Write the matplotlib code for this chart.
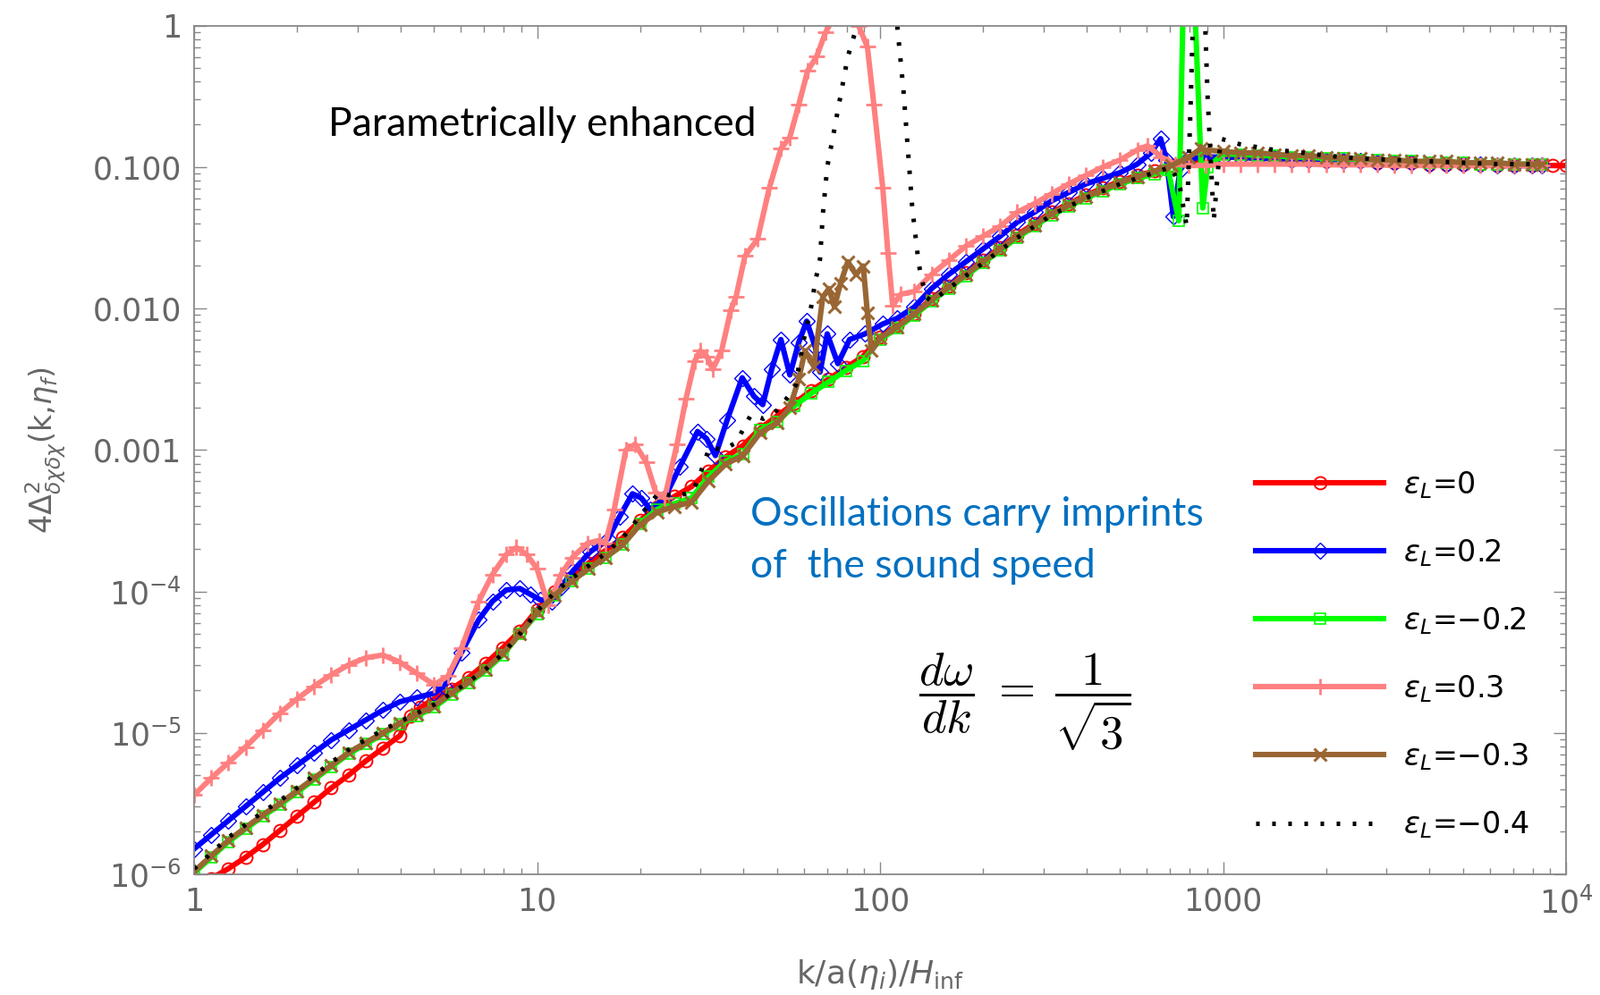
import numpy as np
import matplotlib
matplotlib.use('Agg')
from matplotlib import pyplot as plt
from matplotlib import ticker

plt.rcParams['font.family'] = 'DejaVu Sans'
plt.rcParams['mathtext.fontset'] = 'dejavusans'

# (log10 k, log10 P), one list per curve
red_pts = [(0.05,-6.03),(0.10,-5.96),(0.15,-5.88),(0.20,-5.79),(0.25,-5.69),(0.30,-5.59),(0.35,-5.49),(0.40,-5.39),
  (0.45,-5.30),(0.50,-5.20),(0.55,-5.11),(0.60,-5.02),(0.63,-4.88),(0.66,-4.82),(0.70,-4.76),(0.75,-4.69),(0.80,-4.61),
  (0.85,-4.51),(0.90,-4.40),(0.95,-4.28),(1.00,-4.13),(1.05,-4.00),(1.10,-3.90),(1.15,-3.80),(1.20,-3.71),(1.25,-3.62),
  (1.30,-3.50),(1.35,-3.40),(1.40,-3.33),(1.45,-3.26),(1.50,-3.15),(1.55,-3.05),(1.60,-2.97),(1.65,-2.85),(1.70,-2.76),
  (1.75,-2.67),(1.80,-2.58),(1.85,-2.50),(1.90,-2.42),(1.95,-2.34),(2.00,-2.20),(2.05,-2.12),(2.10,-2.04),(2.15,-1.93),
  (2.20,-1.84),(2.25,-1.75),(2.30,-1.66),(2.35,-1.57),(2.40,-1.48),(2.45,-1.40),(2.50,-1.32),(2.55,-1.26),(2.60,-1.20),
  (2.65,-1.15),(2.70,-1.10),(2.75,-1.06),(2.80,-1.03),(2.85,-0.99),(2.90,-0.96),(2.95,-0.94),(3.00,-0.93),(3.05,-0.93),
  (3.10,-0.94),(3.15,-0.94),(3.20,-0.95),(3.25,-0.95),(3.30,-0.96),(3.35,-0.96),(3.40,-0.96),(3.45,-0.97),(3.50,-0.97),
  (3.55,-0.97),(3.60,-0.98),(3.65,-0.98),(3.70,-0.98),(3.75,-0.98),(3.80,-0.99),(3.85,-0.99),(3.90,-0.99),(3.96,-0.99),
  (4.00,-0.99)]

blue_pts = [(0.00,-5.82),(0.05,-5.72),(0.10,-5.62),(0.15,-5.52),(0.20,-5.42),(0.25,-5.32),(0.30,-5.23),(0.35,-5.14),
  (0.40,-5.05),(0.45,-4.98),(0.50,-4.91),(0.55,-4.84),(0.60,-4.78),(0.65,-4.75),(0.70,-4.72),(0.73,-4.67),(0.78,-4.43),
  (0.83,-4.20),(0.87,-4.07),(0.91,-3.99),(0.95,-3.98),(0.98,-4.02),(1.01,-4.06),(1.043,-4.07),(1.07,-3.97),(1.103,-3.86),
  (1.155,-3.72),(1.207,-3.63),(1.241,-3.47),(1.278,-3.31),(1.304,-3.34),(1.33,-3.42),(1.372,-3.34),(1.416,-3.12),
  (1.468,-2.87),(1.494,-2.92),(1.52,-3.04),(1.554,-2.79),(1.598,-2.49),(1.632,-2.62),(1.658,-2.68),(1.684,-2.43),
  (1.711,-2.22),(1.737,-2.47),(1.763,-2.24),(1.786,-2.09),(1.812,-2.28),(1.825,-2.45),(1.846,-2.18),(1.877,-2.39),
  (1.911,-2.22),(1.956,-2.18),(2.008,-2.11),(2.05,-2.07),(2.10,-1.99),(2.15,-1.86),(2.20,-1.76),(2.25,-1.67),(2.30,-1.58),
  (2.35,-1.49),(2.40,-1.39),(2.45,-1.32),(2.50,-1.24),(2.55,-1.18),(2.60,-1.12),(2.65,-1.08),(2.70,-1.04),(2.75,-0.98),
  (2.79,-0.90),(2.818,-0.80),(2.835,-0.95),(2.855,-1.35),(2.875,-1.02),(2.90,-0.94),(2.95,-0.93),(3.00,-0.93),(3.05,-0.93),
  (3.10,-0.94),(3.15,-0.94),(3.20,-0.95),(3.25,-0.95),(3.30,-0.96),(3.35,-0.96),(3.40,-0.96),(3.45,-0.97),(3.50,-0.97),
  (3.55,-0.97),(3.60,-0.98),(3.65,-0.98),(3.70,-0.98),(3.75,-0.98),(3.80,-0.99),(3.85,-0.99),(3.90,-0.99),(3.93,-0.99)]

green_pts = [(0.00,-5.99),(0.05,-5.88),(0.10,-5.77),(0.15,-5.68),(0.20,-5.59),(0.25,-5.51),(0.30,-5.42),(0.35,-5.33),
  (0.40,-5.24),(0.45,-5.15),(0.50,-5.08),(0.55,-5.01),(0.60,-4.94),(0.65,-4.88),(0.70,-4.82),(0.75,-4.73),(0.80,-4.65),
  (0.85,-4.56),(0.90,-4.45),(0.95,-4.30),(1.00,-4.16),(1.05,-4.03),(1.10,-3.93),(1.15,-3.84),(1.20,-3.76),(1.25,-3.67),
  (1.30,-3.52),(1.35,-3.42),(1.40,-3.38),(1.45,-3.34),(1.50,-3.19),(1.55,-3.08),(1.60,-3.03),(1.65,-2.86),(1.70,-2.80),
  (1.75,-2.69),(1.80,-2.60),(1.85,-2.52),(1.90,-2.44),(1.95,-2.37),(2.00,-2.22),(2.05,-2.14),(2.10,-2.05),(2.15,-1.95),
  (2.20,-1.86),(2.25,-1.77),(2.30,-1.68),(2.35,-1.59),(2.40,-1.50),(2.45,-1.42),(2.50,-1.34),(2.55,-1.28),(2.60,-1.22),
  (2.65,-1.17),(2.70,-1.12),(2.75,-1.08),(2.80,-1.05),(2.84,-1.02),(2.871,-1.38),(2.885,0.30),(2.90,0.70),(2.915,0.30),
  (2.941,-1.29),(2.955,-1.00),(3.00,-0.91),(3.05,-0.91),(3.10,-0.92),(3.15,-0.92),(3.20,-0.93),(3.25,-0.93),(3.30,-0.94),
  (3.35,-0.94),(3.40,-0.95),(3.45,-0.95),(3.50,-0.96),(3.55,-0.96),(3.60,-0.97),(3.65,-0.97),(3.70,-0.97),(3.75,-0.98),
  (3.80,-0.98),(3.85,-0.98),(3.90,-0.98),(3.93,-0.98)]

pink_pts = [(0.00,-5.44),(0.05,-5.32),(0.10,-5.21),(0.15,-5.10),(0.20,-4.98),(0.25,-4.86),(0.30,-4.76),(0.35,-4.67),
  (0.40,-4.59),(0.45,-4.52),(0.50,-4.47),(0.55,-4.45),(0.60,-4.50),(0.65,-4.58),(0.70,-4.66),(0.74,-4.60),(0.78,-4.40),
  (0.83,-4.07),(0.87,-3.88),(0.91,-3.74),(0.94,-3.69),(0.97,-3.74),(1.00,-3.84),(1.033,-4.10),(1.07,-3.88),(1.103,-3.76),
  (1.147,-3.66),(1.18,-3.64),(1.199,-3.66),(1.225,-3.42),(1.259,-3.00),(1.286,-2.96),(1.319,-3.09),(1.346,-3.30),
  (1.372,-3.34),(1.408,-2.96),(1.434,-2.64),(1.46,-2.37),(1.476,-2.30),(1.495,-2.34),(1.512,-2.43),(1.538,-2.30),
  (1.565,-2.01),(1.58,-1.92),(1.606,-1.63),(1.643,-1.51),(1.677,-1.15),(1.711,-0.87),(1.737,-0.79),(1.763,-0.56),
  (1.789,-0.32),(1.815,-0.22),(1.841,-0.05),(1.87,0.08),(1.90,0.12),(1.937,0.00),(1.963,-0.15),(1.982,-0.56),
  (2.008,-1.15),(2.023,-1.61),(2.037,-1.98),(2.06,-1.90),(2.10,-1.88),(2.15,-1.76),(2.20,-1.66),(2.25,-1.56),(2.30,-1.49),
  (2.35,-1.42),(2.40,-1.32),(2.45,-1.26),(2.50,-1.19),(2.55,-1.12),(2.60,-1.06),(2.65,-1.00),(2.70,-0.95),(2.75,-0.88),
  (2.78,-0.85),(2.82,-0.93),(2.86,-0.98),(2.90,-0.99),(2.95,-0.99),(3.00,-0.98),(3.05,-0.98),(3.10,-0.98),(3.15,-0.98),
  (3.20,-0.98),(3.25,-0.98),(3.30,-0.985),(3.35,-0.985),(3.40,-0.985),(3.45,-0.985),(3.50,-0.99),(3.55,-0.99),
  (3.60,-0.99),(3.65,-0.99),(3.70,-0.99),(3.75,-0.99),(3.80,-0.99),(3.85,-0.99),(3.90,-0.99),(3.93,-0.99)]

brown_pts = [(0.00,-5.98),(0.05,-5.87),(0.10,-5.76),(0.15,-5.67),(0.20,-5.58),(0.25,-5.50),(0.30,-5.41),(0.35,-5.32),
  (0.40,-5.23),(0.45,-5.14),(0.50,-5.07),(0.55,-5.00),(0.60,-4.93),(0.65,-4.87),(0.70,-4.81),(0.75,-4.72),(0.80,-4.64),
  (0.85,-4.55),(0.90,-4.44),(0.95,-4.30),(1.00,-4.15),(1.05,-4.03),(1.10,-3.93),(1.15,-3.84),(1.20,-3.76),(1.25,-3.67),
  (1.30,-3.53),(1.35,-3.44),(1.40,-3.40),(1.45,-3.37),(1.50,-3.22),(1.55,-3.10),(1.60,-3.04),(1.65,-2.88),(1.70,-2.81),
  (1.737,-2.70),(1.763,-2.50),(1.781,-2.30),(1.807,-2.41),(1.833,-1.92),(1.851,-1.86),(1.867,-1.99),(1.885,-1.82),
  (1.906,-1.67),(1.93,-1.76),(1.951,-1.70),(1.963,-2.03),(1.975,-2.30),(2.00,-2.21),(2.05,-2.13),(2.10,-2.04),
  (2.15,-1.94),(2.20,-1.85),(2.25,-1.76),(2.30,-1.67),(2.35,-1.58),(2.40,-1.49),(2.45,-1.41),(2.50,-1.33),(2.55,-1.27),
  (2.60,-1.21),(2.65,-1.16),(2.70,-1.11),(2.75,-1.07),(2.80,-1.03),(2.85,-0.99),(2.90,-0.93),(2.936,-0.87),(2.95,-0.88),
  (3.00,-0.89),(3.05,-0.90),(3.10,-0.90),(3.15,-0.91),(3.20,-0.92),(3.25,-0.92),(3.30,-0.93),(3.35,-0.94),(3.40,-0.94),
  (3.45,-0.95),(3.50,-0.95),(3.55,-0.96),(3.60,-0.96),(3.65,-0.96),(3.70,-0.97),(3.75,-0.97),(3.80,-0.97),(3.85,-0.98),
  (3.90,-0.98),(3.93,-0.98)]

black_pts = [(0.00,-5.96),(0.05,-5.85),(0.10,-5.74),(0.15,-5.65),(0.20,-5.56),(0.25,-5.48),(0.30,-5.39),(0.35,-5.30),
  (0.40,-5.21),(0.45,-5.12),(0.50,-5.05),(0.55,-4.98),(0.60,-4.92),(0.65,-4.86),(0.70,-4.80),(0.75,-4.72),(0.80,-4.64),
  (0.85,-4.55),(0.90,-4.44),(0.95,-4.30),(1.00,-4.14),(1.05,-4.01),(1.10,-3.91),(1.15,-3.82),(1.20,-3.73),(1.25,-3.62),
  (1.30,-3.47),(1.356,-3.30),(1.40,-3.33),(1.45,-3.30),(1.468,-3.22),(1.503,-2.98),(1.54,-3.00),(1.58,-2.95),
  (1.624,-2.75),(1.66,-2.78),(1.70,-2.72),(1.74,-2.60),(1.755,-2.54),(1.763,-2.41),(1.781,-2.18),(1.799,-1.99),
  (1.812,-1.80),(1.825,-1.65),(1.833,-1.34),(1.846,-1.00),(1.864,-0.77),(1.88,-0.56),(1.906,-0.22),(1.932,-0.01),
  (1.98,0.25),(2.03,0.10),(2.05,0.00),(2.068,-0.45),(2.081,-0.87),(2.094,-1.29),(2.112,-1.67),(2.12,-1.78),(2.135,-1.92),
  (2.15,-1.95),(2.20,-1.86),(2.25,-1.77),(2.30,-1.68),(2.35,-1.59),(2.40,-1.50),(2.45,-1.42),(2.50,-1.34),(2.55,-1.28),
  (2.60,-1.22),(2.65,-1.17),(2.70,-1.12),(2.75,-1.08),(2.80,-1.04),(2.85,-1.00),(2.875,-1.15),(2.894,-1.42),(2.905,-0.60),
  (2.912,0.00),(2.93,0.40),(2.948,0.00),(2.955,-0.50),(2.973,-1.38),(2.993,-0.80),(3.05,-0.84),(3.10,-0.86),(3.15,-0.88),
  (3.20,-0.89),(3.30,-0.92),(3.40,-0.94),(3.50,-0.95),(3.60,-0.96),(3.70,-0.97),(3.80,-0.98),(3.93,-0.98)]

labels = [r'$\epsilon_L$=0', r'$\epsilon_L$=0.2', r'$\epsilon_L$=−0.2', r'$\epsilon_L$=0.3',
          r'$\epsilon_L$=−0.3', r'$\epsilon_L$=−0.4']

x_ticks = [1, 10, 100, 1000, 1e4]
x_ticklabels = ['1', '10', '100', '1000', r'$10^4$']
y_ticks = [1e-6, 1e-5, 1e-4, 1e-3, 1e-2, 1e-1, 1]
y_ticklabels = [r'$10^{-6}$', r'$10^{-5}$', r'$10^{-4}$', '0.001', '0.010', '0.100', '1']


''' figure '''
W, H = 1789, 1113
fig = plt.figure(figsize=(W/100, H/100), dpi=100)
ax = fig.add_axes([217/W, 1-978/H, (1751-217)/W, (978-28.5)/H])
ax.set_xscale('log')
ax.set_yscale('log')

styles = [
  dict(color='#ff0000', marker='o', ms=10, mfc='none', mew=1.4),
  dict(color='#0000ff', marker='D', ms=9, mfc='none', mew=1.0),
  dict(color='#00ff00', marker='s', ms=9, mfc='none', mew=1.2),
  dict(color='#ff8080', marker='+', ms=13, mew=2.0),
  dict(color='#996633', marker='x', ms=10, mew=2.2),
  dict(color='black', marker=None, ls=(0, (0.8, 2.8))),
]
series = [red_pts, blue_pts, green_pts, pink_pts, brown_pts, black_pts]

for pts, st, lab in zip(series, styles, labels):
  arr = np.asarray(pts)
  lw = 3.6 if st['color'] == 'black' else 4.4
  ax.plot(10**arr[:,0], 10**arr[:,1], lw=lw, label=lab, **st)

ax.set_xlim(1, 1e4)
ax.set_ylim(1e-6, 1)

gray = '#888888'
for sp in ax.spines.values():
  sp.set_color(gray)
  sp.set_linewidth(1.3)

ax.xaxis.set_major_locator(ticker.FixedLocator(x_ticks))
ax.xaxis.set_major_formatter(ticker.FixedFormatter(x_ticklabels))
ax.yaxis.set_major_locator(ticker.FixedLocator(y_ticks))
ax.yaxis.set_major_formatter(ticker.FixedFormatter(y_ticklabels))
ax.xaxis.set_minor_locator(ticker.LogLocator(base=10, subs=np.arange(2, 10)))
ax.yaxis.set_minor_locator(ticker.LogLocator(base=10, subs=np.arange(2, 10)))
ax.xaxis.set_minor_formatter(ticker.NullFormatter())
ax.yaxis.set_minor_formatter(ticker.NullFormatter())
ax.tick_params(which='both', direction='in', top=True, right=True, color=gray, width=1.0,
               labelcolor='#666666', labelsize=25)
ax.tick_params(which='major', length=10, pad=10)
ax.tick_params(which='minor', length=5)

ax.text(-0.108, 0.5, r'$4\Delta^2_{\delta\chi\delta\chi}(\mathrm{k}{,}\eta_f)$', transform=ax.transAxes,
        rotation=90, ha='center', va='center', fontsize=24, color='#666666')
ax.text(0.5, -0.118, r'k/a($\eta_i$)/$H_{\mathrm{inf}}$', transform=ax.transAxes,
        ha='center', va='center', fontsize=26, color='#666666')

leg = fig.legend(loc='upper left', bbox_to_anchor=(1404/W, 1-525/H), frameon=False, fontsize=24,
                 handlelength=4.3, handletextpad=0.65, labelspacing=1.24, borderpad=0, borderaxespad=0)

fig.text(367/W, 1-139/H, 'Parametrically enhanced', fontsize=32, family=['Lato', 'DejaVu Sans'],
         color='black', ha='left', va='center')
fig.text(839/W, 1-576/H, 'Oscillations carry imprints', fontsize=32, family=['Lato', 'DejaVu Sans'],
         color='#0070c0', ha='left', va='center')
fig.text(839/W, 1-633/H, 'of  the sound speed', fontsize=32, family=['Lato', 'DejaVu Sans'],
         color='#0070c0', ha='left', va='center')
fig.text(1146/W, 1-785/H, r'$\dfrac{d\omega}{dk}\;=\;\dfrac{1}{\sqrt{3}}$', fontsize=38,
         math_fontfamily='cm', color='black', ha='center', va='center')

fig.savefig('out.png', dpi=100)
